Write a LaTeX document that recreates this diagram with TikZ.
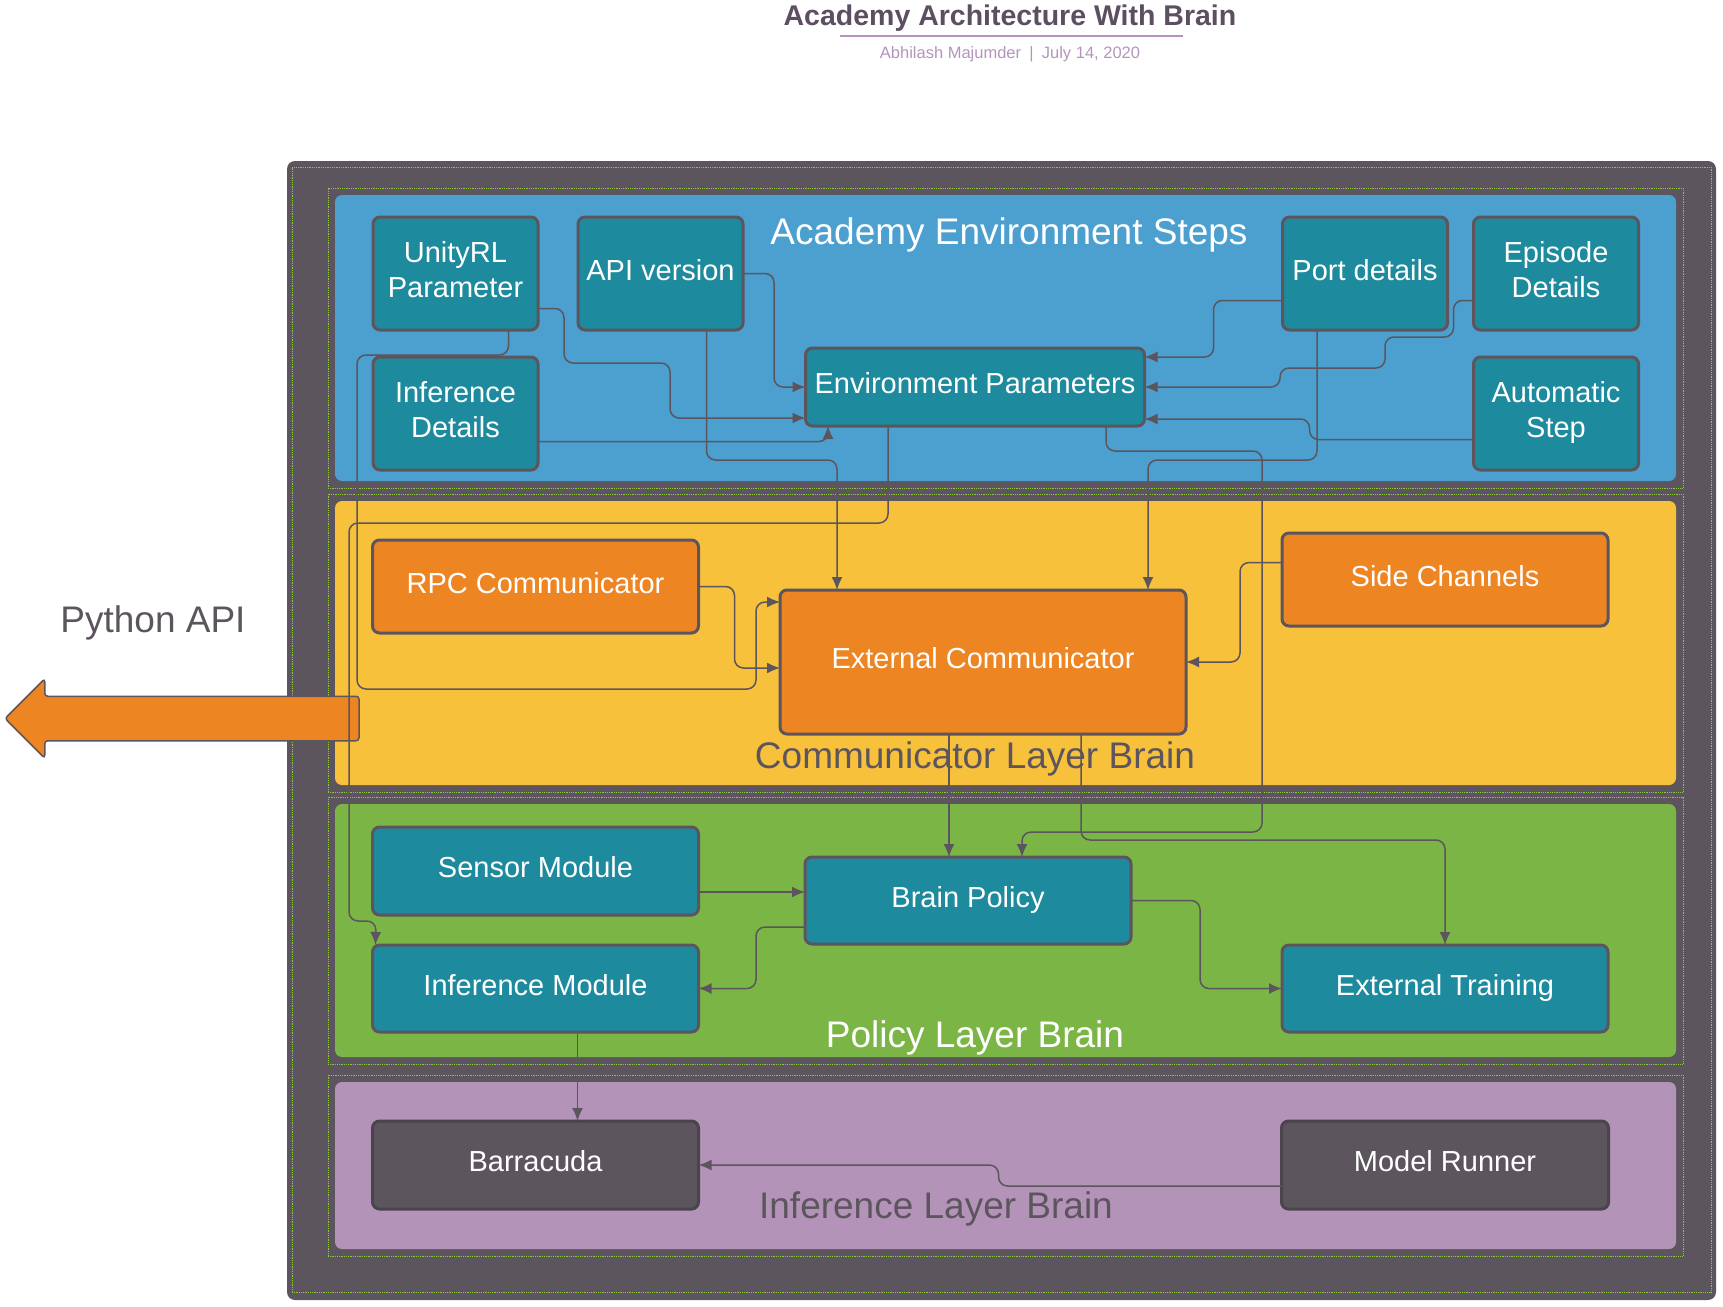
\documentclass[tikz,border=0pt]{standalone}
\usepackage{fontspec}
\setmainfont{Liberation Sans}
\usepackage{xcolor}
\usepackage{tikz}
\usetikzlibrary{shapes, arrows.meta, positioning, fit, calc}

\definecolor{outergray}{HTML}{5C555E}
\definecolor{darkedge}{HTML}{4A444C}
\definecolor{titlegray}{HTML}{5C4F62}
\definecolor{lavender}{HTML}{B494BC}
\definecolor{tealfill}{HTML}{1D8A9E}
\definecolor{orangefill}{HTML}{EE8523}
\definecolor{bluepanel}{HTML}{4CA0D0}
\definecolor{yellowpanel}{HTML}{F7C13C}
\definecolor{greenpanel}{HTML}{7BB545}
\definecolor{purplepanel}{HTML}{B493B8}
\definecolor{limedot}{HTML}{8CC63F}

\newcommand{\titlefnt}{\fontsize{28.5}{32}\selectfont\bfseries}
\newcommand{\bylinefnt}{\fontsize{16.5}{19}\selectfont}
\newcommand{\boxfnt}{\fontsize{29}{35}\selectfont}
\newcommand{\layerfnt}{\fontsize{37}{42}\selectfont}

\begin{document}
\begin{tikzpicture}[
    x=1pt, y=-1pt,
    node distance=27pt,
    panel/.style={rectangle, inner sep=0pt, outer sep=0pt, rounded corners=7pt, minimum width=1341pt},
    dotframe/.style={rectangle, draw=limedot, densely dotted, line width=0.8pt, inner sep=7pt},
    tealbox/.style={rectangle, draw=outergray, line width=3pt, fill=tealfill, text=white, font=\boxfnt, align=center, text depth=8pt, rounded corners=7pt, inner sep=2pt, outer sep=0pt, minimum width=165pt, minimum height=113pt},
    widebox/.style={tealbox, minimum width=326pt, minimum height=87pt},
    orangebox/.style={widebox, fill=orangefill, minimum height=93pt},
    darkbox/.style={widebox, fill=outergray, draw=darkedge, minimum height=88pt},
    layertext/.style={font=\layerfnt, anchor=base},
    conn/.style={-{Latex[length=13pt,width=11pt]}, line width=1.5pt, draw=outergray, rounded corners=9pt}
]
\useasboundingbox (0,0) rectangle (1723,1306);

% title
\node[font=\titlefnt, text=titlegray, anchor=base] (title) at (1010,26) {Academy Architecture With Brain};
\draw[line width=2.5pt, draw=lavender] (840,36) -- (1183,36);
\node[font=\bylinefnt, text=lavender, anchor=base] (byline) at (1010,59) {Abhilash Majumder\enspace|\enspace July 14, 2020};

% containers
\node[rectangle, fill=outergray, rounded corners=8pt, inner sep=0pt, minimum width=1429pt, minimum height=1139pt] (outer) at (1001.5,730.5) {};
\node[dotframe, inner sep=0pt, minimum width=1419pt, minimum height=1125pt] (outerframe) at (1001.5,729.5) {};
\node[panel, fill=bluepanel, minimum height=286pt] (envpanel) at (1005.5,338) {};
\node[panel, fill=yellowpanel, minimum height=284pt] (commpanel) at (1005.5,643) {};
\node[panel, fill=greenpanel, minimum height=253pt] (policypanel) at (1005.5,930.5) {};
\node[panel, fill=purplepanel, minimum height=167pt] (infpanel) at (1005.5,1165.5) {};
\node[dotframe, fit=(envpanel)] (envframe) {};
\node[dotframe, fit=(commpanel)] (commframe) {};
\node[dotframe, fit=(policypanel)] (policyframe) {};
\node[dotframe, fit=(infpanel)] (infframe) {};

\node[single arrow, shape border rotate=180, anchor=tip, fill=orangefill, draw=outergray, line width=1.5pt, rounded corners=3pt, inner xsep=0pt, inner ysep=21.5pt, single arrow head extend=17.5pt, minimum height=354pt, outer sep=0pt] (pyarrow) at (5,718.5) {};
\node[layertext, text=outergray] (pyapi) at (153,632) {Python API};

% labels
\node[layertext, text=white] (envlabel) at (1009,244) {Academy Environment Steps};
\node[layertext, text=outergray] (commlabel) at (975,768) {Communicator Layer Brain};
\node[layertext, text=white] (policylabel) at (975,1047) {Policy Layer Brain};
\node[layertext, text=outergray] (inflabel) at (936,1218) {Inference Layer Brain};

% environment steps
\node[tealbox] (unity) at (455.5,273.5) {UnityRL\\Parameter};
\node[tealbox, right=40pt of unity] (apiver) {API version};
\node[tealbox, below=of unity] (infdetails) {Inference\\Details};
\node[tealbox] (port) at (1365,273.5) {Port details};
\node[tealbox, right=26pt of port] (episode) {Episode\\Details};
\node[tealbox, below=of episode] (autostep) {Automatic\\Step};
\node[widebox, minimum width=339pt, minimum height=78pt] (envparams) at (975,387) {Environment Parameters};

% communicator layer
\node[orangebox] (rpc) at (535.5,586.5) {RPC Communicator};
\node[orangebox, minimum width=406pt, minimum height=144pt] (extcomm) at (983,662) {External Communicator};
\node[orangebox] (sidech) at (1445,579.5) {Side Channels};

% policy layer
\node[widebox, minimum height=88pt] (sensor) at (535.5,871) {Sensor Module};
\node[widebox] (brain) at (968,900.5) {Brain Policy};
\node[widebox, below=30pt of sensor] (infmodule) {Inference Module};
\node[widebox] (exttrain) at (1445,988.5) {External Training};

% inference layer
\node[darkbox, below=89pt of infmodule] (barracuda) {Barracuda};
\node[darkbox, minimum width=327pt] (runner) at (1445,1165) {Model Runner};

% connectors
\draw[conn] (apiver.east) -- ++(31,0) |- (envparams.west);
\draw[conn] ([yshift=-35pt]unity.east) -- ++(26,0) |- (670,363) |- ([yshift=-31pt]envparams.west);
\draw[conn] ([yshift=-28pt]infdetails.east) -| ([xshift=-147pt]envparams.south);
\draw[conn] ([xshift=53pt]unity.south) |- (357,355) |- (756,689) |- ([yshift=60pt]extcomm.west);
\draw[conn] ([xshift=-87pt]envparams.south) |- (349,523) |- (376,921) -- ([xshift=-160pt]infmodule.north);
\draw[conn] ([xshift=46pt]apiver.south) |- (837,460) -- ([xshift=-146pt]extcomm.north);
\draw[conn] ([yshift=-27pt]port.west) -- ++(-69,0) |- ([yshift=30pt]envparams.east);
\draw[conn] ([yshift=-27pt]episode.west) -- ++(-20,0) |- (1385,337) |- (1280,368) |- (envparams.east);
\draw[conn] ([yshift=-26pt]autostep.west) -- ++(-164,0) |- ([yshift=-32pt]envparams.east);
\draw[conn] ([xshift=-48pt]port.south) |- (1148,460) -- ([xshift=165pt]extcomm.north);
\draw[conn] ([xshift=131pt]envparams.south) |- (1262,451) |- (1022,832) -- ([xshift=54pt]brain.north);
\draw[conn] (rpc.east) -- ++(36,0) |- ([yshift=-6pt]extcomm.west);
\draw[conn] ([yshift=17pt]sidech.west) -- ++(-42,0) |- (extcomm.east);
\draw[conn] ([xshift=-34pt]extcomm.south) -- ([xshift=-19pt]brain.north);
\draw[conn] ([xshift=98pt]extcomm.south) |- (1445,840) -- (exttrain.north);
\draw[conn] ([yshift=-21pt]sensor.east) -- ([yshift=8.5pt]brain.west);
\draw[conn] ([yshift=-26.5pt]brain.west) -- ++(-49,0) |- (infmodule.east);
\draw[conn] (brain.east) -- ++(69,0) |- (exttrain.west);
\draw[conn] ([xshift=42pt]infmodule.south) -- ([xshift=42pt]barracuda.north);
\draw[conn] ([yshift=-21pt]runner.west) -- ++(-283,0) |- (barracuda.east);
\end{tikzpicture}
\end{document}
